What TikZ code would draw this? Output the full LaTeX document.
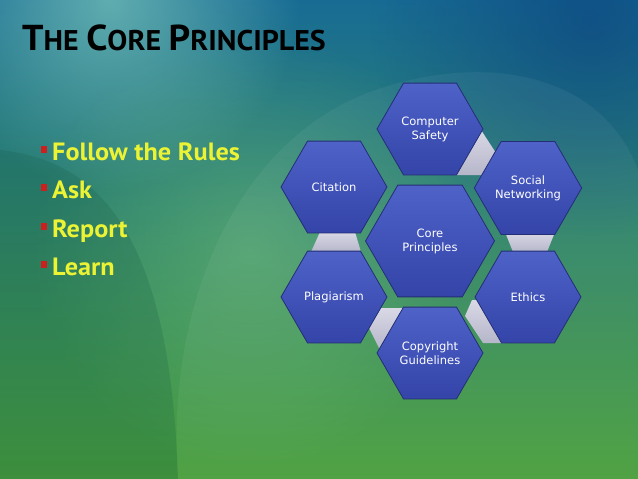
\documentclass[tikz,border=0pt]{standalone}
\usepackage{fontspec}
\setmainfont{DejaVu Sans}
\newfontfamily\ptsans{PT Sans}
\newfontfamily\rulefont{PT Sans}[FakeStretch=1.05]
\usetikzlibrary{shapes.geometric,calc,fadings,backgrounds}

\definecolor{hexbluetop}{RGB}{78,98,200}
\definecolor{hexbluebot}{RGB}{52,68,168}
\definecolor{hexline}{RGB}{36,46,118}
\definecolor{linkgray}{RGB}{216,216,230}
\definecolor{linkgraydark}{RGB}{182,182,202}
\definecolor{ruleyellow}{RGB}{236,242,52}
\definecolor{bulletred}{RGB}{205,32,30}
\definecolor{skytop}{RGB}{24,108,148}
\definecolor{skymid}{RGB}{40,134,110}
\definecolor{skybot}{RGB}{72,158,58}
\definecolor{glowteal}{RGB}{120,195,185}
\definecolor{glowgreen}{RGB}{130,205,130}
\definecolor{deepblue}{RGB}{12,70,128}
\definecolor{deepgreen}{RGB}{22,92,70}

\tikzfading[name=glowfade, inner color=transparent!0, outer color=transparent!100]
\pgfdeclarelayer{scenery}
\pgfsetlayers{scenery,background,main}

\newcommand\titlecap[1]{{\fontsize{36}{36}\selectfont #1}}
\newcommand\titlelow[1]{{\fontsize{28.5}{28.5}\selectfont #1}}

\tikzset{
  hexnode/.style={regular polygon, regular polygon sides=6, minimum size=106pt,
    inner sep=0pt, draw=hexline, line width=.8pt,
    top color=hexbluetop, bottom color=hexbluebot,
    text=white, align=center, font=\fontsize{11.5}{14}\selectfont},
  corehex/.style={hexnode, minimum size=129pt},
  linkpiece/.style={top color=linkgray, bottom color=linkgraydark},
  rule/.style={anchor=base west, inner sep=0pt, text=ruleyellow,
    font=\rulefont\bfseries\fontsize{25}{28}\selectfont},
  bulletbox/.style={fill=bulletred, inner sep=0pt, minimum width=6pt, minimum height=7pt}
}

\begin{document}
\begin{tikzpicture}[x=1pt, y=-1pt]
  \useasboundingbox (0,0) rectangle (638,479);

  % baggrund
  \begin{pgfonlayer}{scenery}
    \shade[top color=skytop, middle color=skymid, bottom color=skybot]
      (0,0) rectangle (638,479);
    \fill[deepblue, path fading=glowfade, opacity=.7] (590,20) circle [radius=220];
    \fill[glowteal, path fading=glowfade, opacity=.75] (110,0) circle [radius=190];
    \fill[glowgreen, path fading=glowfade, opacity=.4] (250,250) circle [radius=220];
    \fill[deepgreen, opacity=.22]
      (0,150) .. controls (90,160) and (170,220) .. (178,479) -- (0,479) -- cycle;
    \fill[white, opacity=.05]
      (178,479) .. controls (165,300) and (240,140) .. (370,92)
      .. controls (480,52) and (600,70) .. (638,170) -- (638,479) -- cycle;
  \end{pgfonlayer}

  \node[anchor=base west, inner sep=0pt, font=\ptsans\bfseries] (title) at (22,50)
    {\scalebox{1.05}[1]{\titlecap{T}\titlelow{HE\ }\titlecap{C}\titlelow{ORE\ }\titlecap{P}\titlelow{RINCIPLES}}};

  \node[rule] (r1) at (52,160) {Follow the Rules};
  \node[rule] (r2) at (52,198) {Ask};
  \node[rule] (r3) at (52,237) {Report};
  \node[rule] (r4) at (52,275) {Learn};
  \node[bulletbox] (b1) at ([shift={(-8,-11)}]r1.base west) {};
  \node[bulletbox] (b2) at ([shift={(-8,-11)}]r2.base west) {};
  \node[bulletbox] (b3) at ([shift={(-8,-11)}]r3.base west) {};
  \node[bulletbox] (b4) at ([shift={(-8,-11)}]r4.base west) {};

  \node[corehex] (core) at (430,241) {Core\\Principles};
  \node[hexnode] (cs) at (430,129) {Computer\\Safety};
  \node[hexnode] (sn) at (528,188) {Social\\Networking};
  \node[hexnode] (et) at (528,297) {Ethics};
  \node[hexnode] (cg) at (430,353) {Copyright\\Guidelines};
  \node[hexnode] (pl) at (334,297) {Plagiarism};
  \node[hexnode] (ci) at (334,187) {Citation};

  % forbindelser
  \begin{pgfonlayer}{background}
    \coordinate (m1) at ($(cs)!.5!(sn)$);
    \coordinate (m2) at ($(sn)!.5!(et)$);
    \coordinate (m3) at ($(et)!.5!(cg)$);
    \coordinate (m4) at ($(cg)!.5!(pl)$);
    \coordinate (m5) at ($(pl)!.5!(ci)$);
    \shade[linkpiece] ($(m1)+(2,-28.5)$) -- ($(m1)+(17,-5.5)$)
      -- ($(m1)+(7,16.5)$) -- ($(m1)+(-24,16.5)$) -- cycle;
    \shade[linkpiece] ($(m2)+(-23,-10.5)$) -- ($(m2)+(27,-10.5)$)
      -- ($(m2)+(19,9.5)$) -- ($(m2)+(-15,9.5)$) -- cycle;
    \shade[linkpiece] ($(m3)+(-7,-25)$) -- ($(m3)+(11,-25)$)
      -- ($(m3)+(26,18)$) -- ($(m3)+(4,18)$) -- ($(m3)+(-14,-9)$) -- cycle;
    \shade[linkpiece] ($(m4)+(-2,-17)$) -- ($(m4)+(23,-17)$)
      -- ($(m4)+(-2,25)$) -- ($(m4)+(-13,3)$) -- cycle;
    \shade[linkpiece] ($(m5)+(-14,-10)$) -- ($(m5)+(21,-10)$)
      -- ($(m5)+(27,10)$) -- ($(m5)+(-23,10)$) -- cycle;
  \end{pgfonlayer}
\end{tikzpicture}
\end{document}
